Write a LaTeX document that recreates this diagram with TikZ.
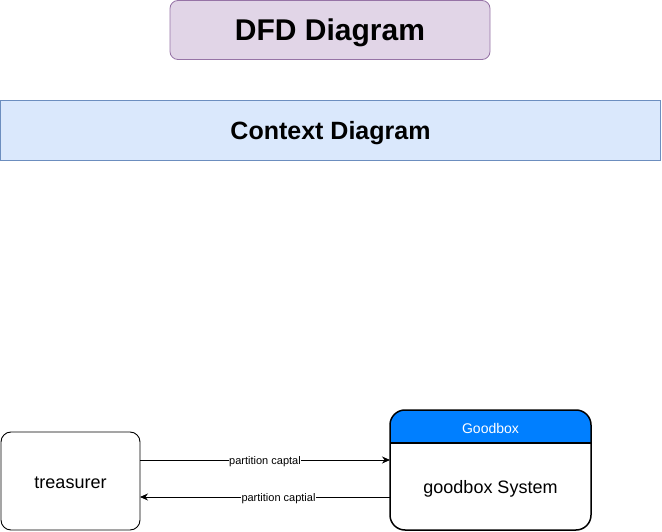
\documentclass[tikz,border=0pt]{standalone}
\usepackage{fontspec}
\setmainfont{Liberation Sans}
\usetikzlibrary{arrows.meta}
\definecolor{titlefill}{HTML}{E1D5E7}
\definecolor{titledraw}{HTML}{9673A6}
\definecolor{ctxfill}{HTML}{DAE8FC}
\definecolor{ctxdraw}{HTML}{6C8EBF}
\definecolor{headblue}{HTML}{007FFF}
\begin{document}
\begin{tikzpicture}[x=1pt,y=-1pt,
  box/.style={draw,inner sep=0pt,outer sep=0pt,align=center},
  flow/.style={draw=black,line width=0.8pt,-{Stealth[length=8pt,width=7pt]}},
  flowlabel/.style={fill=white,inner sep=0.5pt,yshift=-1.5pt,font=\fontsize{11}{13}\selectfont}]
\useasboundingbox (0,0) rectangle (662,532);
\node[box,draw=titledraw,fill=titlefill,rounded corners=8pt,line width=0.8pt,
  minimum width=320pt,minimum height=59pt] (title) at (330,30) {};
\node[font=\bfseries\fontsize{30}{34}\selectfont] (titlet) at (330,33) {DFD Diagram};
\node[box,draw=ctxdraw,fill=ctxfill,line width=0.8pt,
  minimum width=660pt,minimum height=60pt] (ctx) at (330.5,130) {};
\node[font=\bfseries\fontsize{25}{28}\selectfont] (ctxt) at (330.5,133) {Context Diagram};
\node[box,draw=black,rounded corners=10pt,line width=0.9pt,
  minimum width=139pt,minimum height=98pt] (tr) at (70.5,481) {};
\node[font=\fontsize{18}{22}\selectfont] (trt) at (70.5,482.5) {treasurer};
\begin{scope}
  \clip[rounded corners=15pt] (390,410) rectangle (591,530);
  \fill[headblue] (390,410) rectangle (591,443);
\end{scope}
\node[box,draw=black,rounded corners=15pt,line width=1.5pt,
  minimum width=201pt,minimum height=120pt] (gb) at (490.5,470) {};
\draw[black,line width=1.5pt] (gb.west |- 0,443) -- (gb.east |- 0,443);
\node[text=white,font=\fontsize{14}{17}\selectfont] (gbh) at (490.5,428.5) {Goodbox};
\node[font=\fontsize{18}{22}\selectfont] (gbb) at (490.5,488.5) {goodbox System};
\draw[flow] (tr.east |- 0,460) -- node[flowlabel,pos=0.5] (l1) {partition captal} (gb.west |- 0,460);
\draw[flow] (gb.west |- 0,497) -- node[flowlabel,pos=0.446] (l2) {partition captial\ } (tr.east |- 0,497);
\end{tikzpicture}
\end{document}
